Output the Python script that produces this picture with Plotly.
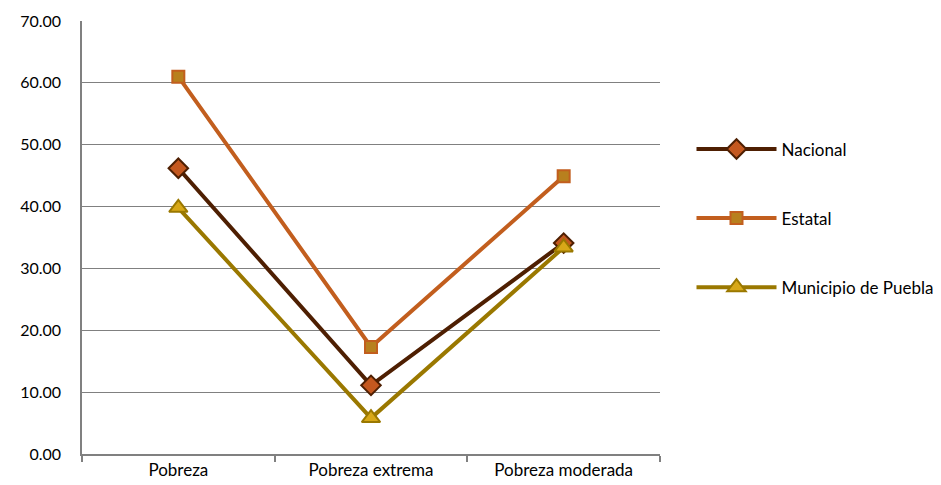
import plotly.graph_objects as go

categories = ["Pobreza", "Pobreza extrema", "Pobreza moderada"]
nacional = [46.2, 11.1, 34.1]
estatal = [61.0, 17.3, 44.9]
municipio = [39.8, 5.8, 33.4]
y_ticks = [0, 10, 20, 30, 40, 50, 60, 70]

FONT = "Lato, 'Open Sans', sans-serif"

fig = go.Figure()
fig.add_trace(go.Scatter(
    x=categories, y=nacional, name="Nacional", mode="lines+markers",
    line=dict(color="#4E1F02", width=4),
    marker=dict(symbol="diamond", size=15, color="#C4581F",
                line=dict(color="#4E1F02", width=2)),
    legendgroup="a"))
fig.add_trace(go.Scatter(
    x=categories, y=estatal, name="Estatal", mode="lines+markers",
    line=dict(color="#C25E1E", width=4),
    marker=dict(symbol="square", size=12, color="#B8801E",
                line=dict(color="#C25E1E", width=2)),
    legendgroup="b"))
fig.add_trace(go.Scatter(
    x=categories, y=municipio, name="Municipio de Puebla", mode="lines+markers",
    line=dict(color="#9A7800", width=4),
    marker=dict(symbol="triangle-up", size=16, color="#D8A818",
                line=dict(color="#9A7800", width=2)),
    legendgroup="c"))

fig.update_layout(
    width=933, height=477,
    margin=dict(l=74, r=281, t=13, b=31, autoexpand=False),
    paper_bgcolor="white", plot_bgcolor="white",
    font=dict(family=FONT, size=17, color="#000000"),
    showlegend=True,
    legend=dict(x=1.0545, y=0.745, xanchor="left", yanchor="top",
                traceorder="grouped", tracegroupgap=44,
                font=dict(family=FONT, size=17, color="#000000"),
                itemwidth=80, bgcolor="rgba(0,0,0,0)"),
    xaxis=dict(type="category", showgrid=False, showline=True,
               linecolor="#808080", linewidth=1.5,
               ticks="outside", tickson="boundaries", ticklen=6,
               tickcolor="#808080", tickwidth=1.5, automargin=False,
               tickfont=dict(family=FONT, size=17), range=[-0.5, 2.5]),
    yaxis=dict(range=[0, 70], tickvals=y_ticks, tickformat=".2f",
               showgrid=True, gridcolor="#808080", gridwidth=1.2,
               showline=True, linecolor="#808080", linewidth=1.5,
               zeroline=False, ticks="", ticklen=0, automargin=False,
               ticklabelstandoff=16,
               tickfont=dict(family=FONT, size=16)),
)

fig.write_html("out.html")
